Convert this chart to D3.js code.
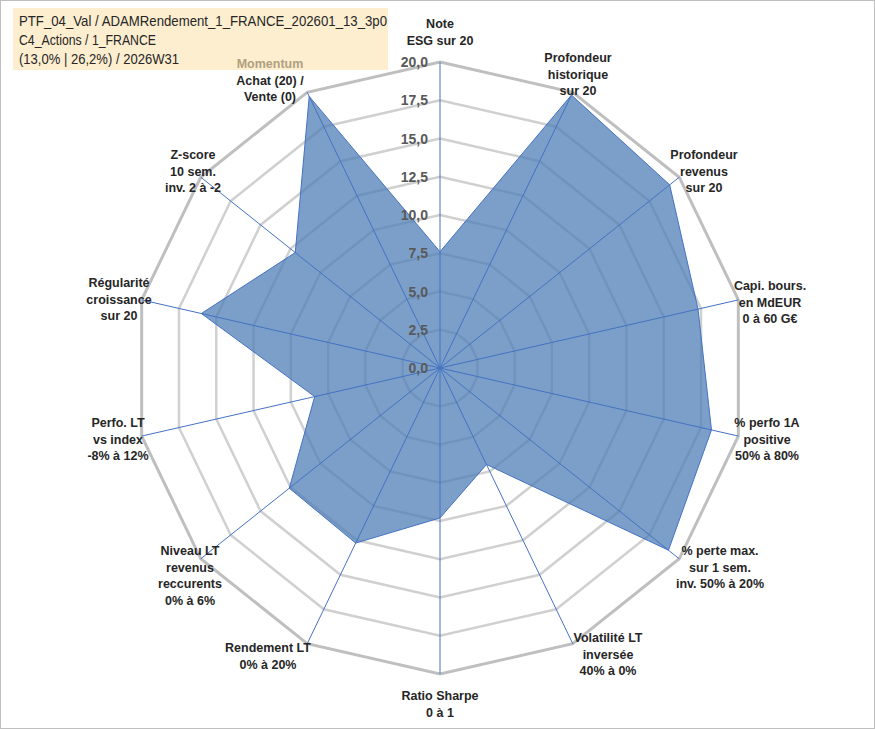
<!DOCTYPE html><html><head><meta charset="utf-8">
<script src="https://cdn.jsdelivr.net/npm/d3@7"></script>
<style>body{margin:0;background:#fff;font-family:"Liberation Sans",Arial,sans-serif}</style></head><body>
<svg id="c" width="875" height="729"></svg>
<script>
const axes=[["Note","ESG sur 20"],["Profondeur","historique","sur 20"],["Profondeur","revenus","sur 20"],["Capi. bours.","en MdEUR","0 à 60 G€"],["% perfo 1A","positive","50% à 80%"],["% perte max.","sur 1 sem.","inv. 50% à 20%"],["Volatilité LT","inversée","40% à 0%"],["Ratio Sharpe","0 à 1"],["Rendement LT","0% à 20%"],["Niveau LT","revenus","reccurents","0% à 6%"],["Perfo. LT","vs index","-8% à 12%"],["Régularité","croissance","sur 20"],["Z-score","10 sem.","inv. 2 à -2"],["Momentum","Achat (20) /","Vente (0)"]];
const values=[7.6,19.8,19.2,17.3,18.2,19.1,7.0,9.8,12.7,12.6,8.4,16.0,12.1,19.7];
const ticks=[0,2.5,5,7.5,10,12.5,15,17.5,20];
const titleLines=["PTF_04_Val / ADAMRendement_1_FRANCE_202601_13_3p0","C4_Actions / 1_FRANCE","(13,0% | 26,2%) / 2026W31"];
const titleLen=[368,137,160];
const svg=d3.select("#c");
svg.append("rect").attr("x",0.5).attr("y",0.5).attr("width",874).attr("height",728).attr("fill","#fff").attr("stroke","#bfbfbf");
const cx=440,cy=368,R=306,n=axes.length;
const r=d3.scaleLinear().domain([0,20]).range([0,R]);
const ang=i=>i*2*Math.PI/n;
const pt=(i,v)=>[cx+r(v)*Math.sin(ang(i)),cy-r(v)*Math.cos(ang(i))];
const g=svg.append("g");
ticks.slice(1).forEach(t=>{
 g.append("polygon").attr("points",d3.range(n).map(i=>pt(i,t).join(",")).join(" "))
  .attr("fill","none").attr("stroke",t===20?"#bfbfbf":"#d0d0d0").attr("stroke-width",t===20?3:2.5);
});
g.append("polygon").attr("points",values.map((v,i)=>pt(i,v).join(",")).join(" "))
 .attr("fill","#4f7fb5").attr("fill-opacity",0.75).attr("stroke","#4472c4").attr("stroke-width",1);
d3.range(n).forEach(i=>{const p=pt(i,20);g.append("line").attr("x1",cx).attr("y1",cy).attr("x2",p[0]).attr("y2",p[1]).attr("stroke","#4472c4").attr("stroke-width",1);});
ticks.forEach(t=>{g.append("text").attr("x",cx-12).attr("y",cy-r(t)+5).attr("text-anchor","end").attr("font-size",14).attr("font-weight","bold").attr("fill","#595959").text(t.toFixed(1).replace(".",","));});
svg.append("rect").attr("x",13).attr("y",8).attr("width",375).attr("height",62).attr("fill","#fdebc8").attr("opacity",0.85);
titleLines.forEach((s,k)=>svg.append("text").attr("x",19).attr("y",26+k*19).attr("font-size",14.5).attr("fill","#262626")
 .attr("textLength",titleLen[k]).attr("lengthAdjust","spacingAndGlyphs").text(s));
const pos=[[440,28],[578,62],[704,159],[770,290],[767,427],[720,555],[608,642],[440,700],[268,652],[190,555],[118,427],[119,287],[193,159],[270,68]];
axes.forEach((lines,i)=>{
 const [x,y0]=pos[i];
 lines.forEach((l,k)=>svg.append("text").attr("x",x).attr("y",y0+k*16.5).attr("text-anchor","middle").attr("font-size",12.5).attr("font-weight","bold")
  .attr("fill",(i===13&&k===0)?"#b0a080":"#262626").text(l));
});
</script></body></html>
